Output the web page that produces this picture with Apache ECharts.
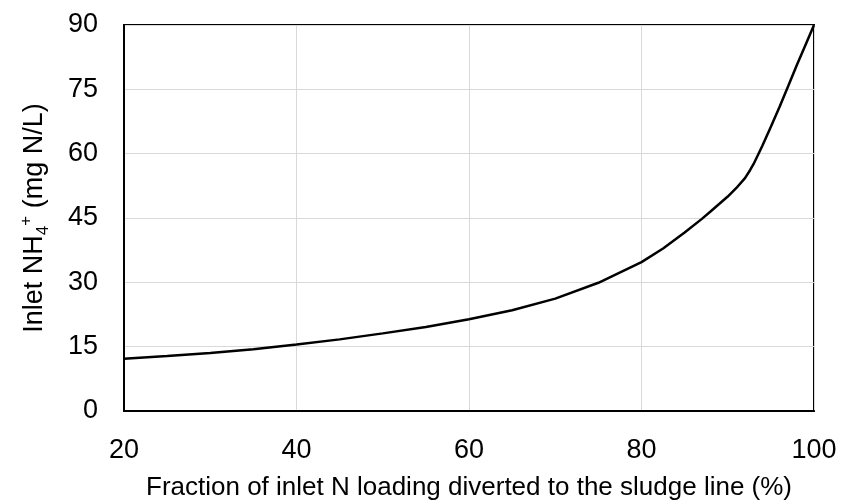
<!DOCTYPE html>
<html>
<head>
<meta charset="utf-8">
<script src="https://cdn.jsdelivr.net/npm/echarts@6/dist/echarts.min.js"></script>
<style>html,body{margin:0;padding:0;background:#fff}#c{width:841px;height:501px}</style>
</head>
<body>
<div id="c"></div>
<script>
const xValues = [20, 25, 30, 35, 40, 45, 50, 55, 60, 65, 70, 75, 80, 82.5, 85, 87, 88, 90, 91, 92, 92.6, 93, 94, 95, 96, 97, 98, 99, 100];
const yValues = [12.2, 12.8, 13.5, 14.4, 15.5, 16.7, 18.1, 19.6, 21.4, 23.5, 26.2, 29.9, 34.7, 37.9, 41.6, 44.8, 46.5, 50.0, 52.0, 54.3, 56.2, 57.6, 61.8, 66.3, 70.9, 75.7, 80.6, 85.3, 90];
const xTicks = [20, 40, 60, 80, 100];
const yTicks = [0, 15, 30, 45, 60, 75, 90];
const xTitle = 'Fraction of inlet N loading diverted to the sludge line (%)';
const yTitleParts = ['Inlet NH', '4', '+', ' (mg N/L)'];

const chart = echarts.init(document.getElementById('c'), null, {renderer: 'canvas'});
const font = '"Liberation Sans", Arial, sans-serif';
chart.setOption({
  animation: false,
  backgroundColor: '#fff',
  grid: {left: 124, right: 27, top: 25, bottom: 90, outerBoundsMode: 'none', containLabel: false, show: true, borderColor: '#000', borderWidth: 2, backgroundColor: 'transparent'},
  xAxis: {
    type: 'value', min: xTicks[0], max: xTicks[xTicks.length - 1], interval: 20,
    axisLine: {show: true, onZero: false, lineStyle: {color: '#000', width: 2}},
    axisTick: {show: false},
    splitLine: {show: true, lineStyle: {color: '#d9d9d9', width: 1}},
    axisLabel: {color: '#000', fontSize: 27, fontFamily: font, margin: 26},
    name: xTitle, nameLocation: 'middle', nameGap: 64,
    nameTextStyle: {color: '#000', fontSize: 26, fontFamily: font}
  },
  yAxis: {
    type: 'value', min: yTicks[0], max: yTicks[yTicks.length - 1], interval: 15,
    axisLine: {show: true, lineStyle: {color: '#000', width: 2}},
    axisTick: {show: false},
    splitLine: {show: true, lineStyle: {color: '#d9d9d9', width: 1}},
    axisLabel: {color: '#000', fontSize: 27, fontFamily: font, margin: 26},
    name: '{a|' + yTitleParts[0] + '}{sub|' + yTitleParts[1] + '}{sup|' + yTitleParts[2] + '}{a|' + yTitleParts[3] + '}',
    nameLocation: 'middle', nameGap: 72, nameRotate: 90,
    nameTextStyle: {
      color: '#000', fontSize: 27, fontFamily: font,
      rich: {
        a: {fontSize: 27, fontFamily: font, color: '#000', lineHeight: 34, verticalAlign: 'middle'},
        sub: {fontSize: 17, fontFamily: font, color: '#000', lineHeight: 17, verticalAlign: 'bottom'},
        sup: {fontSize: 17, fontFamily: font, color: '#000', lineHeight: 17, verticalAlign: 'top'}
      }
    }
  },
  series: [{
    type: 'line',
    data: xValues.map((x, i) => [x, yValues[i]]),
    showSymbol: false, smooth: false,
    lineStyle: {color: '#000', width: 2.5},
    clip: false
  }]
});
</script>
</body>
</html>
